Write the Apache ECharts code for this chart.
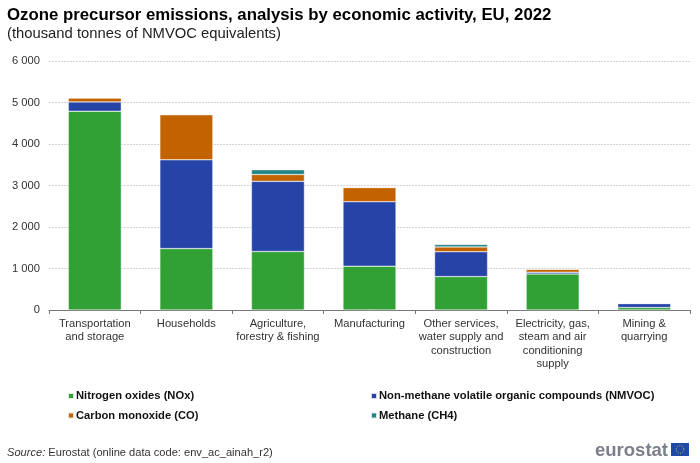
<!DOCTYPE html>
<html><head><meta charset="utf-8">
<style>html,body{margin:0;padding:0;background:#fff}#c{width:700px;height:463px}</style>
<script src="https://cdn.jsdelivr.net/npm/echarts@6/dist/echarts.min.js"></script>
</head><body><div id="c"></div>
<script>
const categories = ['Transportation\nand storage','Households','Agriculture,\nforestry & fishing','Manufacturing','Other services,\nwater supply and\nconstruction','Electricity, gas,\nsteam and air\nconditioning\nsupply','Mining &\nquarrying'];
const nox = [4790,1480,1410,1055,805,870,60];
const nmvoc = [225,2140,1690,1555,600,40,95];
const co = [95,1085,165,340,115,70,5];
const ch4 = [5,10,115,5,60,5,3];
const names = ['Nitrogen oxides (NOx)','Non-methane volatile organic compounds (NMVOC)','Carbon monoxide (CO)','Methane (CH4)'];
const colors = ['#32a135','#2644a7','#c26200','#208486'];
const F = 'Arial, "Liberation Sans", sans-serif';
const legendPos = [[67,390.5],[370,390.5],[67,410],[370,410]];
const chart = echarts.init(document.getElementById('c'));
chart.setOption({
  animation:false,
  backgroundColor:'#fff',
  title:[
    {text:'Ozone precursor emissions, analysis by economic activity, EU, 2022',left:7,top:7,padding:0,textStyle:{fontFamily:F,fontSize:16.8,fontWeight:'bold',color:'#000'}},
    {text:'(thousand tonnes of NMVOC equivalents)',left:7,top:26,padding:0,textStyle:{fontFamily:F,fontSize:14.8,fontWeight:'normal',color:'#222'}},
    {text:'{i|Source:} Eurostat (online data code: env_ac_ainah_r2)',left:7,top:447,padding:0,textStyle:{fontFamily:F,fontSize:11.1,fontWeight:'normal',color:'#333',rich:{i:{fontFamily:F,fontSize:11.1,fontStyle:'italic',color:'#333'}}}}
  ],
  legend:names.map((n,i)=>({data:[n],left:legendPos[i][0],top:legendPos[i][1],padding:0,itemWidth:6,itemHeight:6,itemGap:0,icon:'rect',textStyle:{fontFamily:F,fontSize:11.2,fontWeight:'bold',color:'#111',padding:[0,0,0,-3]},selectedMode:false})),
  grid:{left:49,right:10,top:61,height:249,containLabel:false},
  xAxis:{type:'category',data:categories,axisLine:{lineStyle:{color:'#777',width:1}},axisTick:{show:true,length:4,lineStyle:{color:'#777'}},axisLabel:{interval:0,margin:7,fontFamily:F,fontSize:11.2,color:'#333',lineHeight:13.5,align:'center'},splitLine:{show:false}},
  yAxis:{type:'value',min:0,max:6000,interval:1000,axisLine:{show:false},axisTick:{show:false},axisLabel:{margin:9,fontFamily:F,fontSize:11.2,color:'#333',formatter:v=>v===0?'0':String(v).replace(/\B(?=(\d{3})+$)/g,' ')},splitLine:{show:true,lineStyle:{color:'#d4d4d4',type:[2,1],width:1}}},
  series:[nox,nmvoc,co,ch4].map((d,i)=>({name:names[i],type:'bar',stack:'t',data:d,barWidth:53,itemStyle:{color:colors[i],borderColor:'rgba(255,255,255,0.8)',borderWidth:0.5}})),
  graphic:[
    {type:'text',left:595,top:441,style:{text:'eurostat',font:'bold 18.5px "Liberation Sans", Arial, sans-serif',fill:'#7b7f8c'}},
    {type:'group',left:671,top:443,children:[
      {type:'rect',shape:{x:0,y:0,width:18,height:13},style:{fill:'#1f4aa8'}},
      {type:'circle',shape:{cx:9,cy:6.5,r:3.8},style:{fill:'none',stroke:'#d8c24a',lineWidth:1,lineDash:[1,1.4]}}
    ]}
  ]
});
</script></body></html>
